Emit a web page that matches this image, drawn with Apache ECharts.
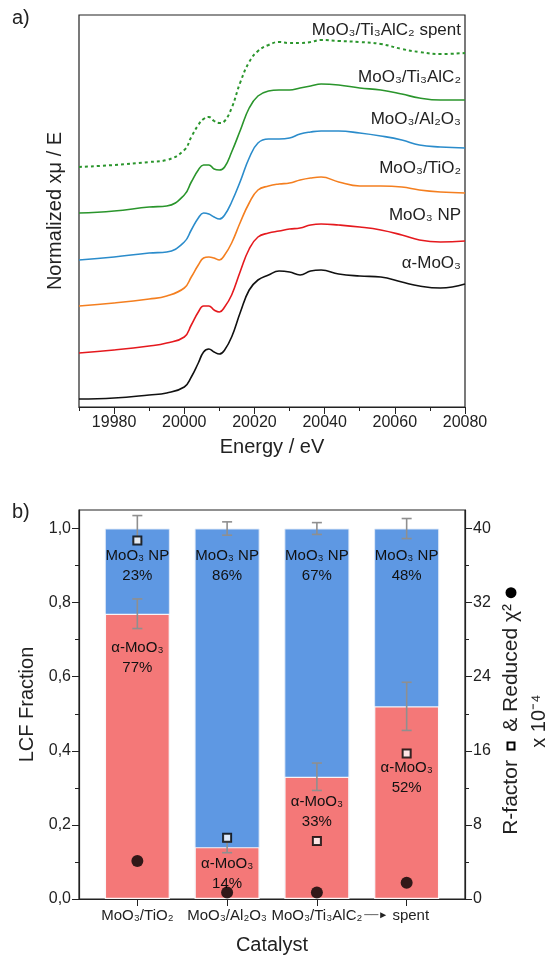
<!DOCTYPE html>
<html>
<head>
<meta charset="utf-8">
<title>XANES LCF</title>
<script src="https://cdn.jsdelivr.net/npm/echarts@6/dist/echarts.min.js"></script>
<style>
  html, body { margin: 0; padding: 0; background: #fff; }
  #chart { width: 547px; height: 957px; }
</style>
</head>
<body>
<div id="chart"></div>
<script>
// a) normalized XANES, curves already shifted as they appear in the plot
var energy = [19970, 19980, 19990, 19995, 20000, 20002, 20004, 20005.5, 20007, 20008.5, 20010, 20011.5, 20013.5, 20016, 20018.5, 20021, 20024, 20027, 20030, 20033, 20036, 20039, 20044, 20050, 20056, 20062, 20067, 20073, 20080];
var alphaMoO3 = [0.08, 0.09, 0.12, 0.14, 0.20, 0.30, 0.44, 0.55, 0.58, 0.55, 0.53, 0.57, 0.70, 0.95, 1.17, 1.27, 1.32, 1.36, 1.35, 1.32, 1.36, 1.37, 1.33, 1.31, 1.30, 1.25, 1.21, 1.19, 1.23];
var moo3NP = [0.54, 0.57, 0.61, 0.64, 0.70, 0.82, 0.95, 1.01, 1.01, 0.97, 0.95, 1.00, 1.12, 1.36, 1.58, 1.70, 1.74, 1.76, 1.78, 1.79, 1.82, 1.83, 1.82, 1.80, 1.77, 1.72, 1.67, 1.65, 1.66];
var moo3TiO2 = [1.01, 1.04, 1.08, 1.11, 1.19, 1.30, 1.42, 1.49, 1.50, 1.49, 1.47, 1.52, 1.64, 1.85, 2.04, 2.17, 2.21, 2.23, 2.24, 2.27, 2.29, 2.30, 2.25, 2.21, 2.21, 2.20, 2.17, 2.15, 2.14];
var moo3Al2O3 = [1.47, 1.50, 1.54, 1.55, 1.65, 1.77, 1.89, 1.94, 1.93, 1.90, 1.88, 1.92, 2.05, 2.26, 2.49, 2.64, 2.68, 2.68, 2.69, 2.73, 2.75, 2.76, 2.76, 2.74, 2.71, 2.67, 2.62, 2.60, 2.59];
var moo3Ti3AlC2 = [1.94, 1.96, 2.00, 2.01, 2.12, 2.25, 2.37, 2.42, 2.42, 2.38, 2.37, 2.40, 2.55, 2.77, 2.99, 3.11, 3.16, 3.17, 3.17, 3.19, 3.21, 3.23, 3.22, 3.19, 3.17, 3.13, 3.09, 3.07, 3.07];
var moo3Ti3AlC2Spent = [2.40, 2.42, 2.45, 2.47, 2.57, 2.70, 2.82, 2.88, 2.90, 2.86, 2.84, 2.86, 2.99, 3.25, 3.45, 3.56, 3.62, 3.65, 3.64, 3.64, 3.65, 3.67, 3.66, 3.65, 3.63, 3.58, 3.55, 3.53, 3.54];
var energyTicks = [19980, 20000, 20020, 20040, 20060, 20080];
var energyMinor = [19970, 19990, 20010, 20030, 20050, 20070];

// b) linear combination fit
var catalysts = ['MoO₃/TiO₂', 'MoO₃/Al₂O₃', 'MoO₃/Ti₃AlC₂', 'spent'];
var catPos = [1, 2, 3, 4];
var fracAlpha = [0.77, 0.14, 0.33, 0.52];
var fracNP = [0.23, 0.86, 0.67, 0.48];
var errAlpha = [0.04, 0.015, 0.037, 0.065];
var errNP = [0.035, 0.018, 0.016, 0.027];
var rFactor = [38.7, 6.6, 6.25, 15.7];
var redChi2 = [4.1, 0.7, 0.7, 1.75];
var fracTicks = [0, 0.2, 0.4, 0.6, 0.8, 1.0];
var fracMinor = [0.1, 0.3, 0.5, 0.7, 0.9];
var rightTicks = [0, 8, 16, 24, 32, 40];
var rightMinor = [4, 12, 20, 28, 36];

var FONT = 'Liberation Sans, Arial, sans-serif';
// how far below the red top each alpha label sits (px)
var ALPHA_LABEL_GAP = [24, 7, 15, 52];

var chart = echarts.init(document.getElementById('chart'));

function pairs(xs, ys) {
  return xs.map(function (x, i) { return [x, ys[i]]; });
}
function xanes(name, vals, color, dashed) {
  return {
    name: name, type: 'line', xAxisIndex: 0, yAxisIndex: 0,
    data: pairs(energy, vals), smooth: 0.45, showSymbol: false, silent: true,
    lineStyle: { color: color, width: dashed ? 2 : 1.6, type: dashed ? [3, 3] : 'solid' }
  };
}
function curveLabel(text, y) {
  return { type: 'text', x: 461, y: y, style: { text: text, align: 'right', verticalAlign: 'middle', fontSize: 17, fill: '#222', fontFamily: FONT } };
}

// blue bar spans the whole stack, red alpha part is drawn over it
var fracTotal = fracAlpha.map(function (a, i) { return a + fracNP[i]; });
var errData = [];
catPos.forEach(function (x, i) {
  var a = fracAlpha[i], t = fracTotal[i];
  errData.push([x, a - errAlpha[i], a + errAlpha[i]]);
  errData.push([x, t - errNP[i], t + errNP[i]]);
});
var alphaItems = pairs(catPos, fracAlpha).map(function (d, i) {
  return { value: d, label: { distance: ALPHA_LABEL_GAP[i] } };
});

var barLabel = { show: true, position: 'insideTop', distance: 16, color: '#111', fontSize: 15, fontFamily: FONT, lineHeight: 20 };

var option = {
  animation: false,
  textStyle: { fontFamily: FONT },
  grid: [
    { left: 79, right: 82, top: 15, bottom: 550, show: true, borderColor: '#222', borderWidth: 1.2 },
    { left: 79, right: 82, top: 510, bottom: 58, show: true, borderColor: '#222', borderWidth: 1.2 }
  ],
  xAxis: [
    {
      type: 'value', gridIndex: 0, min: 19970, max: 20080, position: 'bottom',
      name: 'Energy / eV', nameLocation: 'middle', nameGap: 30,
      nameTextStyle: { fontSize: 20, color: '#222' },
      axisLine: { lineStyle: { color: '#222', width: 1.2 } },
      axisTick: { show: true, inside: false, length: 7, customValues: energyTicks, lineStyle: { color: '#222' } },
      axisLabel: {
        customValues: energyTicks, fontSize: 16, color: '#222', margin: 8,
        formatter: function (v) { return String(v); }
      },
      splitLine: { show: false }
    },
    {
      type: 'value', gridIndex: 0, min: 19970, max: 20080, position: 'bottom',
      axisLine: { show: false },
      axisTick: { show: true, length: 4, customValues: energyMinor, lineStyle: { color: '#222' } },
      axisLabel: { show: false }, splitLine: { show: false }
    },
    {
      type: 'value', gridIndex: 1, min: 0.35, max: 4.65, position: 'bottom',
      name: 'Catalyst', nameLocation: 'middle', nameGap: 36,
      nameTextStyle: { fontSize: 20, color: '#222' },
      axisLine: { lineStyle: { color: '#222', width: 1.2 } },
      axisTick: { show: true, length: 7, customValues: catPos, lineStyle: { color: '#222' } },
      axisLabel: {
        customValues: catPos, fontSize: 15, color: '#222', margin: 9, hideOverlap: false,
        formatter: function (v) {
          var i = Math.round(v) - 1;
          return i === 3 ? '{ar|──►} ' + catalysts[i] + '{pd|}' : catalysts[i];
        },
        rich: {
          ar: { fontSize: 10, color: '#222' },
          pd: { width: 20 }
        }
      },
      splitLine: { show: false }
    }
  ],
  yAxis: [
    {
      type: 'value', gridIndex: 0, min: 0, max: 3.92,
      name: 'Normalized xμ / E', nameLocation: 'middle', nameGap: 14,
      nameTextStyle: { fontSize: 20, color: '#222' },
      axisLine: { show: false }, axisTick: { show: false }, axisLabel: { show: false }, splitLine: { show: false }
    },
    {
      type: 'value', gridIndex: 1, min: 0, max: 1.05, position: 'left',
      name: 'LCF Fraction', nameLocation: 'middle', nameGap: 29,
      nameTextStyle: { fontSize: 20, color: '#222' },
      axisLine: { show: true, lineStyle: { color: '#222', width: 1.2 } },
      axisTick: { show: true, length: 7, customValues: fracTicks, lineStyle: { color: '#222' } },
      axisLabel: {
        customValues: fracTicks, fontSize: 16, color: '#222', margin: 8,
        formatter: function (v) { return v.toFixed(1).replace('.', ','); }
      },
      splitLine: { show: false }
    },
    {
      type: 'value', gridIndex: 1, min: 0, max: 42, position: 'right',
      axisLine: { show: true, lineStyle: { color: '#222', width: 1.2 } },
      axisTick: { show: true, length: 7, customValues: rightTicks, lineStyle: { color: '#222' } },
      axisLabel: { customValues: rightTicks, fontSize: 16, color: '#222', margin: 8 },
      splitLine: { show: false }
    },
    {
      type: 'value', gridIndex: 1, min: 0, max: 1.05, position: 'left',
      axisLine: { show: false },
      axisTick: { show: true, length: 4, customValues: fracMinor, lineStyle: { color: '#222' } },
      axisLabel: { show: false }, splitLine: { show: false }
    },
    {
      type: 'value', gridIndex: 1, min: 0, max: 42, position: 'right',
      axisLine: { show: false },
      axisTick: { show: true, length: 4, customValues: rightMinor, lineStyle: { color: '#222' } },
      axisLabel: { show: false }, splitLine: { show: false }
    }
  ],
  series: [
    xanes('α-MoO₃', alphaMoO3, '#111111', false),
    xanes('MoO₃ NP', moo3NP, '#e5191e', false),
    xanes('MoO₃/TiO₂', moo3TiO2, '#f47f20', false),
    xanes('MoO₃/Al₂O₃', moo3Al2O3, '#2b8ccb', false),
    xanes('MoO₃/Ti₃AlC₂', moo3Ti3AlC2, '#2a952c', false),
    xanes('MoO₃/Ti₃AlC₂ spent', moo3Ti3AlC2Spent, '#2a952c', true),
    {
      name: 'MoO3 NP fraction', type: 'bar', xAxisIndex: 2, yAxisIndex: 1,
      barWidth: 65, barGap: '-100%', data: pairs(catPos, fracTotal),
      itemStyle: { color: '#5e98e3', borderColor: 'rgba(225,235,250,0.9)', borderWidth: 1 },
      label: Object.assign({}, barLabel, {
        distance: 17,
        formatter: function (p) { return 'MoO₃ NP\n' + Math.round(fracNP[p.dataIndex] * 100) + '%'; }
      })
    },
    {
      name: 'α-MoO3 fraction', type: 'bar', xAxisIndex: 2, yAxisIndex: 1,
      barWidth: 65, barGap: '-100%', data: alphaItems,
      itemStyle: { color: '#f47878', borderColor: 'rgba(255,255,255,0.9)', borderWidth: 1.2 },
      label: Object.assign({}, barLabel, {
        formatter: function (p) { return 'α-MoO₃\n' + Math.round(fracAlpha[p.dataIndex] * 100) + '%'; }
      })
    },
    {
      name: 'error', type: 'custom', xAxisIndex: 2, yAxisIndex: 1, silent: true, z: 5,
      data: errData, encode: { x: 0, y: [1, 2] },
      renderItem: function (params, api) {
        var x = api.value(0);
        var lo = api.coord([x, api.value(1)]);
        var hi = api.coord([x, api.value(2)]);
        var w = 5, st = { stroke: '#8f8f8f', lineWidth: 1.6 };
        return {
          type: 'group', children: [
            { type: 'line', shape: { x1: lo[0], y1: lo[1], x2: hi[0], y2: hi[1] }, style: st },
            { type: 'line', shape: { x1: lo[0] - w, y1: lo[1], x2: lo[0] + w, y2: lo[1] }, style: st },
            { type: 'line', shape: { x1: hi[0] - w, y1: hi[1], x2: hi[0] + w, y2: hi[1] }, style: st }
          ]
        };
      }
    },
    {
      name: 'R-factor', type: 'scatter', xAxisIndex: 2, yAxisIndex: 2, z: 6,
      data: pairs(catPos, rFactor), symbol: 'rect', symbolSize: 8,
      itemStyle: { color: '#ffffff', borderColor: '#000', borderWidth: 2 }
    },
    {
      name: 'Reduced chi2', type: 'scatter', xAxisIndex: 2, yAxisIndex: 2, z: 6,
      data: pairs(catPos, redChi2), symbol: 'circle', symbolSize: 12,
      itemStyle: { color: '#000' }
    }
  ],
  graphic: [
    { type: 'text', left: 12, top: 8, style: { text: 'a)', fontSize: 20, fill: '#222', fontFamily: FONT } },
    { type: 'text', left: 12, top: 502, style: { text: 'b)', fontSize: 20, fill: '#222', fontFamily: FONT } },
    curveLabel('MoO₃/Ti₃AlC₂ spent', 30),
    curveLabel('MoO₃/Ti₃AlC₂', 77),
    curveLabel('MoO₃/Al₂O₃', 119),
    curveLabel('MoO₃/TiO₂', 168),
    curveLabel('MoO₃ NP', 215),
    curveLabel('α-MoO₃', 263),
    {
      type: 'text', x: 511, y: 711, rotation: Math.PI / 2,
      style: {
        text: 'R-factor  {sq|}  & Reduced χ² {ci|}', align: 'center', verticalAlign: 'middle',
        fontSize: 21, fill: '#222', fontFamily: FONT,
        rich: {
          sq: { width: 5, height: 5, borderColor: '#000', borderWidth: 2, backgroundColor: '#fff' },
          ci: { width: 11, height: 11, borderRadius: 6, backgroundColor: '#000' }
        }
      }
    },
    {
      type: 'text', x: 539, y: 721, rotation: Math.PI / 2,
      style: { text: 'x 10⁻⁴', align: 'center', verticalAlign: 'middle', fontSize: 20, fill: '#222', fontFamily: FONT }
    }
  ]
};
chart.setOption(option);
</script>
</body>
</html>
